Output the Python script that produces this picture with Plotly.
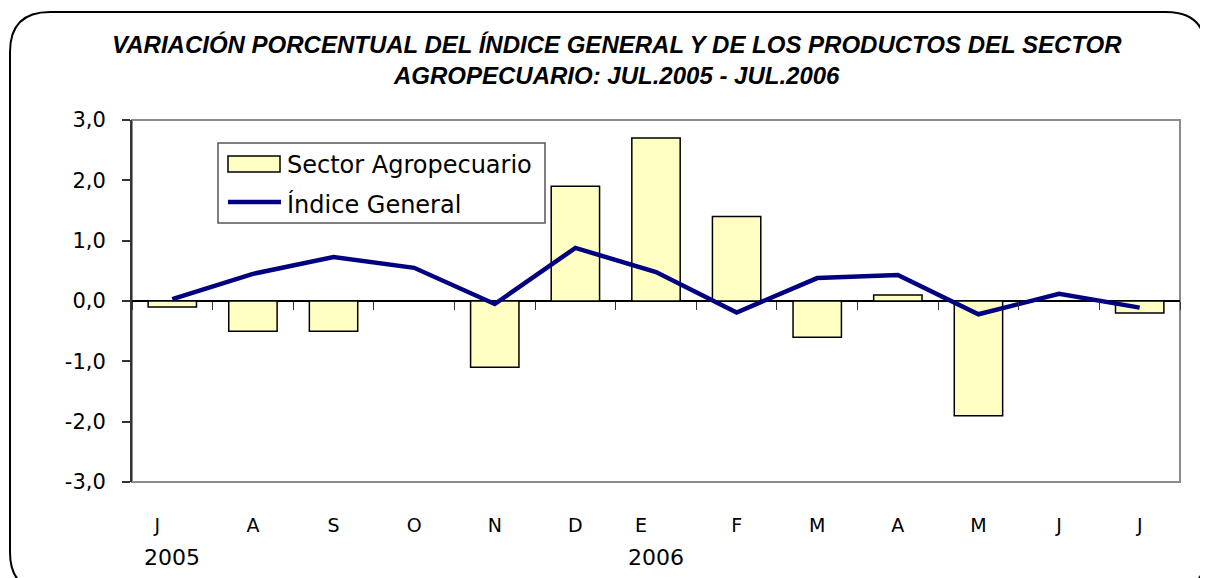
import plotly.graph_objects as go

months = ["J", "A", "S", "O", "N", "D", "E", "F", "M", "A", "M", "J", "J"]
years = ["2005", "2006"]
year_idx = [0, 6]
sector_agro = [-0.1, -0.5, -0.5, 0.0, -1.1, 1.9, 2.7, 1.4, -0.6, 0.1, -1.9, 0.0, -0.2]
indice_general = [0.03, 0.45, 0.73, 0.55, -0.05, 0.88, 0.48, -0.19, 0.38, 0.43, -0.22, 0.12, -0.11]
y_ticks = [-3, -2, -1, 0, 1, 2, 3]
y_ticktext = ["-3,0", "-2,0", "-1,0", "0,0", "1,0", "2,0", "3,0"]
series_names = ["Sector Agropecuario", "Índice General"]

BAR_FILL = "#FFFFC4"
LINE_COLOR = "#000080"

# page has an 8px body margin: figure is drawn at (8, 8)
OFF = 8
W, H = 1200, 570
L, T = 132 - OFF, 120 - OFF
R = W - (1180 - OFF)
B = H - (482 - OFF)
PW, PH = W - L - R, H - T - B

def px(x):
    return (x - OFF - L) / PW

def py(y):
    return (H - B - (y - OFF)) / PH

xs = list(range(len(months)))
ticktext = []
for i, m in enumerate(months):
    if i in year_idx:
        ticktext.append(m + "\u00a0" * 5)
    else:
        ticktext.append(m)

fig = go.Figure()
fig.add_trace(go.Bar(
    x=xs, y=sector_agro, name=series_names[0],
    marker=dict(color=BAR_FILL, line=dict(color="black", width=1.5)),
    width=0.6, showlegend=False,
))
fig.add_trace(go.Scatter(
    x=xs, y=indice_general, name=series_names[1], mode="lines",
    line=dict(color=LINE_COLOR, width=4.5), showlegend=False,
))
fig.add_trace(go.Scatter(x=[], y=[], xaxis="x2", showlegend=False, hoverinfo="skip"))

font_main = "DejaVu Sans, Verdana, Arial, sans-serif"

# rounded outer frame
x0, x1, y0, y1, r = 10, 1206, 12, 592, 40
def P(x, y):
    return f"{px(x):.5f},{py(y):.5f}"
path = (f"M {P(x0 + r, y0)} L {P(x1 - r, y0)} Q {P(x1, y0)} {P(x1, y0 + r)} "
        f"L {P(x1, y1 - r)} Q {P(x1, y1)} {P(x1 - r, y1)} "
        f"L {P(x0 + r, y1)} Q {P(x0, y1)} {P(x0, y1 - r)} "
        f"L {P(x0, y0 + r)} Q {P(x0, y0)} {P(x0 + r, y0)} Z")

shapes = [
    dict(type="path", path=path, xref="paper", yref="paper",
         line=dict(color="black", width=2), layer="below"),
    dict(type="rect", x0=0, x1=1, y0=0, y1=1, xref="paper", yref="paper",
         line=dict(color="#8c8c8c", width=2), layer="below"),
    # legend box
    dict(type="rect", x0=px(218), x1=px(545), y0=py(143), y1=py(223),
         xref="paper", yref="paper", fillcolor="white",
         line=dict(color="#555555", width=1.5), layer="above"),
    # legend bar symbol
    dict(type="rect", x0=px(228), x1=px(280), y0=py(156), y1=py(172),
         xref="paper", yref="paper", fillcolor=BAR_FILL,
         line=dict(color="black", width=1.5), layer="above"),
    # legend line symbol
    dict(type="line", x0=px(228), x1=px(281), y0=py(202), y1=py(202),
         xref="paper", yref="paper",
         line=dict(color=LINE_COLOR, width=4.5), layer="above"),
]

annotations = [
    dict(text=years[k], x=year_idx[k], xref="x", y=py(557), yref="paper",
         showarrow=False, font=dict(family=font_main, size=22, color="black"),
         xanchor="center", yanchor="middle")
    for k in range(len(years))
]
annotations.append(dict(
    text="VARIACIÓN PORCENTUAL DEL ÍNDICE GENERAL Y DE LOS PRODUCTOS DEL SECTOR<br>AGROPECUARIO: JUL.2005 - JUL.2006",
    x=px(617), y=py(60), xref="paper", yref="paper", showarrow=False,
    xanchor="center", yanchor="middle",
    font=dict(family="Liberation Sans, Arial, sans-serif", size=24, color="black",
              style="italic", weight="bold"),
))
for name, yc in zip(series_names, [165, 204]):
    annotations.append(dict(
        text=name, x=px(285), y=py(yc), xref="paper", yref="paper",
        showarrow=False, xanchor="left", yanchor="middle",
        font=dict(family=font_main, size=24, color="black"),
    ))

fig.update_layout(
    width=W, height=H,
    margin=dict(l=L, r=R, t=T, b=B),
    paper_bgcolor="white", plot_bgcolor="white",
    showlegend=False,
    xaxis=dict(range=[-0.5, len(months) - 0.5], tickvals=xs, ticktext=ticktext,
               showgrid=False, zeroline=False, showline=False,
               ticks="outside", ticklen=26, tickcolor="rgba(0,0,0,0)",
               tickfont=dict(family=font_main, size=19, color="black")),
    xaxis2=dict(overlaying="x", anchor="free", position=0.5, side="bottom",
                range=[-0.5, len(months) - 0.5],
                tickvals=[i - 0.5 for i in range(len(months) + 1)],
                showticklabels=False, showgrid=False, zeroline=False, showline=False,
                ticks="outside", ticklen=8, tickcolor="#333333", tickwidth=1),
    yaxis=dict(range=[-3, 3], tickvals=y_ticks, ticktext=y_ticktext,
               showgrid=False, zeroline=True, zerolinecolor="black", zerolinewidth=1.5,
               showline=True, linecolor="#333333", linewidth=2,
               ticks="outside", ticklen=8, tickcolor="#333333", tickwidth=1.5,
               ticklabelstandoff=12,
               tickfont=dict(family=font_main, size=21, color="black")),
    shapes=shapes,
    annotations=annotations,
)

fig.write_html("out.html")
